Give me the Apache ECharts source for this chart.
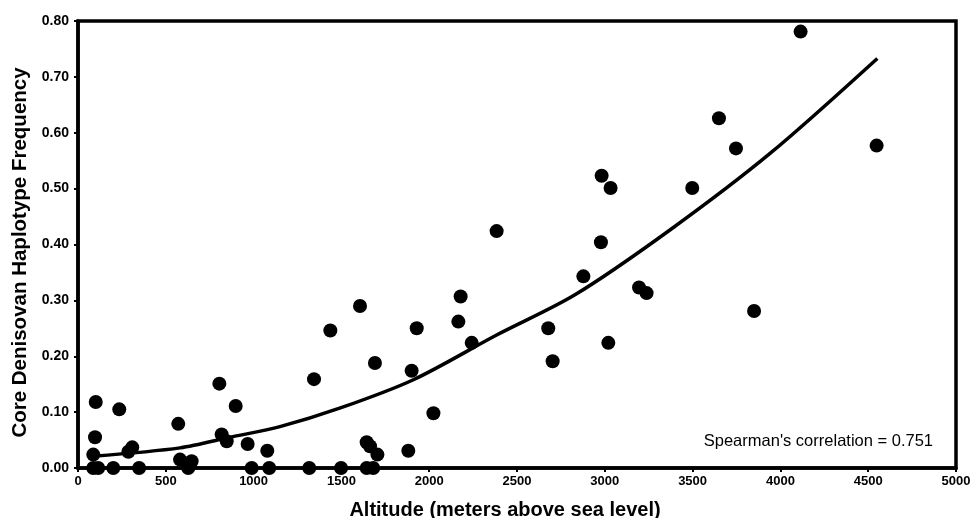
<!DOCTYPE html>
<html>
<head>
<meta charset="utf-8">
<script src="https://cdn.jsdelivr.net/npm/echarts@6/dist/echarts.min.js"></script>
<style>
  html, body { margin: 0; padding: 0; background: #fff; }
  #chart { width: 971px; height: 518px; }
</style>
</head>
<body>
<div id="chart"></div>
<script>
// altitude (m) and core Denisovan haplotype frequency of each population
const altitude = [101, 97, 87, 87, 115, 201, 235, 287, 309, 348,
  571, 581, 647, 628, 805, 818, 847, 898, 966, 989,
  1078, 1089, 1317, 1344, 1437, 1498, 1606, 1644, 1663, 1691,
  1705, 1644, 1681, 1881, 1900, 1929, 2024, 2166, 2179, 2242,
  2384, 2678, 2703, 2878, 2978, 2982, 3020, 3033, 3195, 3238,
  3498, 3650, 3747, 3850, 4115, 4548];
const frequency = [0.118, 0.055, 0.024, 0, 0, 0, 0.105, 0.029, 0.037, 0,
  0.079, 0.015, 0.012, 0, 0.151, 0.060, 0.048, 0.111, 0.043, 0,
  0.031, 0, 0, 0.159, 0.246, 0, 0.290, 0.046, 0.039, 0.188,
  0.024, 0, 0, 0.031, 0.174, 0.250, 0.098, 0.262, 0.307, 0.224,
  0.424, 0.250, 0.191, 0.343, 0.404, 0.523, 0.224, 0.501, 0.323, 0.313,
  0.501, 0.626, 0.572, 0.281, 0.781, 0.577];

// trend curve
const trendAlt = [85, 581, 866, 1150, 1490, 1910, 2384, 2830, 3371, 3941, 4552];
const trendFreq = [0.021, 0.036, 0.055, 0.074, 0.107, 0.158, 0.238, 0.31, 0.426, 0.563, 0.733];

const xTicks = { min: 0, max: 5000, interval: 500 };
const yTicks = { min: 0, max: 0.8, interval: 0.1 };

const points = altitude.map((a, i) => [a, frequency[i]]);
const trend = trendAlt.map((a, i) => [a, trendFreq[i]]);

const font = 'Liberation Sans, Arial, sans-serif';
let myChart = echarts.init(document.getElementById('chart'));
myChart.setOption({
  animation: false,
  grid: {
    left: 78, right: 15, top: 21, bottom: 50, outerBoundsMode: 'none',
    show: true, borderColor: '#000', borderWidth: 3.5
  },
  xAxis: {
    type: 'value', min: xTicks.min, max: xTicks.max, interval: xTicks.interval,
    name: 'Altitude (meters above sea level)', nameLocation: 'middle', nameGap: 32,
    nameTextStyle: { fontFamily: font, fontWeight: 'bold', fontSize: 20, color: '#000',
      padding: [0, 24, 0, 0] },
    axisLine: { lineStyle: { color: '#000', width: 3.5 } },
    axisTick: { show: true, length: 4, lineStyle: { color: '#000', width: 2 } },
    axisLabel: { fontFamily: font, fontWeight: 'bold', fontSize: 13, color: '#000', margin: 7,
      formatter: v => String(v) },
    splitLine: { show: false }
  },
  yAxis: {
    type: 'value', min: yTicks.min, max: yTicks.max, interval: yTicks.interval,
    name: 'Core Denisovan Haplotype Frequency', nameLocation: 'middle', nameGap: 45,
    nameTextStyle: { fontFamily: font, fontWeight: 'bold', fontSize: 20.5, color: '#000',
      padding: [0, 16, 0, 0] },
    axisLine: { show: true, lineStyle: { color: '#000', width: 3.5 } },
    axisTick: { show: true, length: 4, lineStyle: { color: '#000', width: 2 } },
    axisLabel: { fontFamily: font, fontWeight: 'bold', fontSize: 14, color: '#000', margin: 9,
      formatter: v => v.toFixed(2) },
    splitLine: { show: false }
  },
  series: [
    {
      type: 'line', data: trend, smooth: 0.3, symbol: 'none',
      lineStyle: { color: '#000', width: 3.5 }, z: 2
    },
    {
      type: 'scatter', data: points, symbol: 'circle', symbolSize: 14,
      itemStyle: { color: '#000', opacity: 1 }, z: 3
    }
  ],
  graphic: [{
    type: 'text', right: 38, top: 433,
    style: { text: "Spearman's correlation = 0.751", fontFamily: font, fontSize: 16.5, fill: '#000' }
  }]
});
</script>
</body>
</html>
